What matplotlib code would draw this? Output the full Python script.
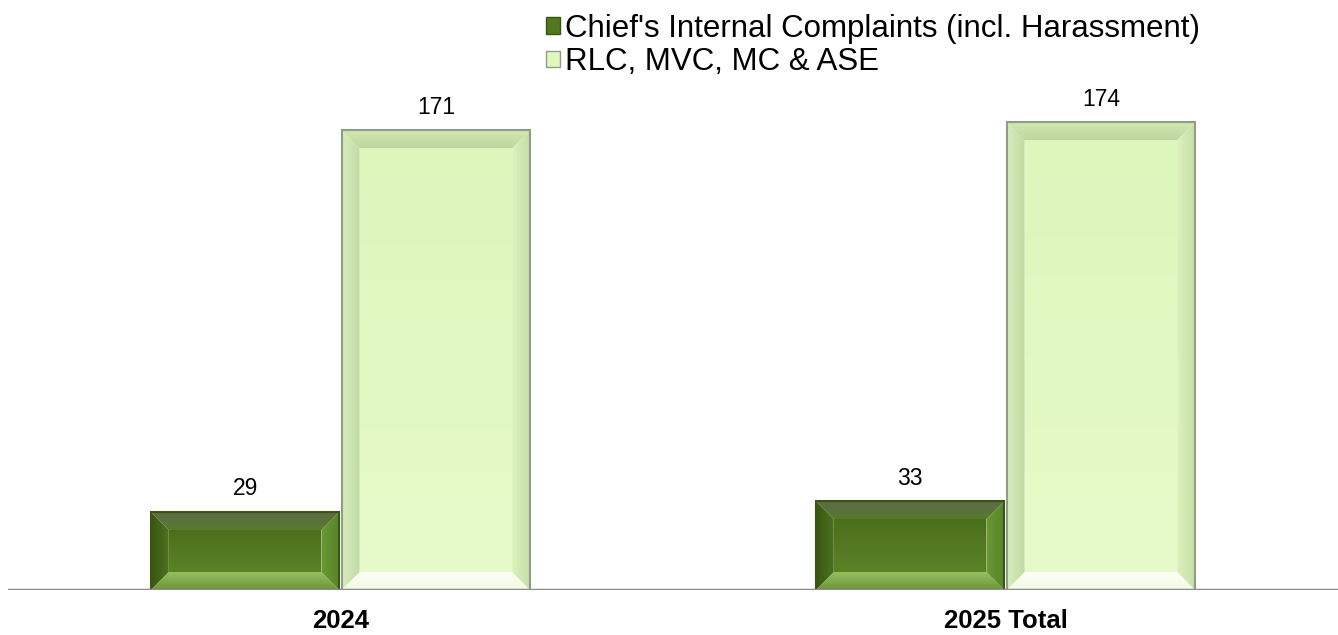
import matplotlib.pyplot as plt
from matplotlib.patches import Polygon, Patch
from matplotlib.colors import LinearSegmentedColormap
import numpy as np

plt.rcParams['font.family'] = ['Liberation Sans', 'DejaVu Sans']

categories = ["2024", "2025 Total"]
series_names = ["Chief's Internal Complaints (incl. Harassment)", "RLC, MVC, MC & ASE"]
internal = [29, 33]
rlc = [171, 174]

# gradient pairs per piece: face, top, bottom, left, right (+ edge colour)
dark_style = {
    "face": ("#5a8226", "#4b6f1b"),
    "top": ("#587a30", "#5b6b44"),
    "bottom": ("#6c963a", "#97bd5e"),
    "left": ("#39570f", "#4d7121"),
    "right": ("#6a9934", "#57852a"),
    "edge": "#3a5414",
    "legend": "#52771f",
}
light_style = {
    "face": ("#e6fac9", "#ddf6bc"),
    "top": ("#bed6a0", "#d2e9b3"),
    "bottom": ("#f2fbe4", "#fdfff7"),
    "left": ("#d6ecbd", "#c2dba4"),
    "right": ("#dcf2bd", "#c6dea9"),
    "edge": "#8f9c86",
    "legend": "#e0f8c0",
}

W, H = 1338, 635
fig = plt.figure(figsize=(W / 100, H / 100), dpi=100)
ax = fig.add_axes([8 / W, 45 / H, 1330 / W, 500 / H])
ax.set_xlim(-0.5, 1.5)
ax.set_ylim(0, 186)


def grad_poly(ax, pts, c0, c1, vertical):
    poly = Polygon(pts, closed=True, facecolor='none', edgecolor='none')
    ax.add_patch(poly)
    cmap = LinearSegmentedColormap.from_list('g', [c0, c1])
    g = np.linspace(0, 1, 64)
    arr = g[:, None] if vertical else g[None, :]
    (xmin, ymin), (xmax, ymax) = pts.min(0), pts.max(0)
    im = ax.imshow(arr, cmap=cmap, extent=(xmin, xmax, ymin, ymax),
                   origin='lower', aspect='auto', interpolation='bilinear',
                   zorder=2)
    im.set_clip_path(poly)


def bevel_bar(ax, xc, width, value, st, b=18):
    """Bar drawn as a framed box with four sloped bevel faces."""
    to_px = ax.transData
    to_data = ax.transData.inverted()
    (L, B) = to_px.transform((xc - width / 2, 0))
    (R, T) = to_px.transform((xc + width / 2, value))
    bv = min(b, (T - B) / 2 - 1, (R - L) / 2 - 1)
    l, r, bb, t = L + bv, R - bv, B + bv, T - bv
    pieces = [
        ("face", [(l, bb), (r, bb), (r, t), (l, t)], True),
        ("top", [(L, T), (R, T), (r, t), (l, t)], True),
        ("bottom", [(L, B), (R, B), (r, bb), (l, bb)], True),
        ("left", [(L, B), (L, T), (l, t), (l, bb)], False),
        ("right", [(R, B), (R, T), (r, t), (r, bb)], False),
    ]
    for key, pts, vert in pieces:
        c0, c1 = st[key]
        grad_poly(ax, to_data.transform(pts), c0, c1, vert)
    ax.add_patch(Polygon(to_data.transform([(L, B), (R, B), (R, T), (L, T)]),
                         closed=True, facecolor='none', edgecolor=st["edge"],
                         linewidth=1.5, zorder=3))
    ax.annotate(f"{value}", (xc, value), xytext=(0, 12),
                textcoords='offset points', ha='center', va='baseline',
                fontsize=16.5, zorder=4)


x = np.arange(len(categories))
width = 0.2835
offset = 0.1435
for i in range(len(categories)):
    bevel_bar(ax, x[i] - offset, width, internal[i], dark_style)
    bevel_bar(ax, x[i] + offset, width, rlc[i], light_style)

ax.axhline(0, color='#8c8c8c', linewidth=2.5, zorder=5)
for s in ax.spines.values():
    s.set_visible(False)
ax.set_yticks([])
ax.set_xticks(x)
ax.set_xticklabels(categories, fontsize=18.5, fontweight='bold')
ax.tick_params(axis='x', length=0, pad=14)

handles = [Patch(facecolor=dark_style["legend"], edgecolor=dark_style["edge"]),
           Patch(facecolor=light_style["legend"], edgecolor=light_style["edge"])]
fig.legend(handles, series_names, loc='upper left',
           bbox_to_anchor=(546 / W, 1 - 14 / H), frameon=False,
           fontsize=22.5, handlelength=0.45, handleheight=0.45,
           handletextpad=0.15, labelspacing=0.1, borderaxespad=0,
           borderpad=0)

fig.savefig("out.png", dpi=100)
